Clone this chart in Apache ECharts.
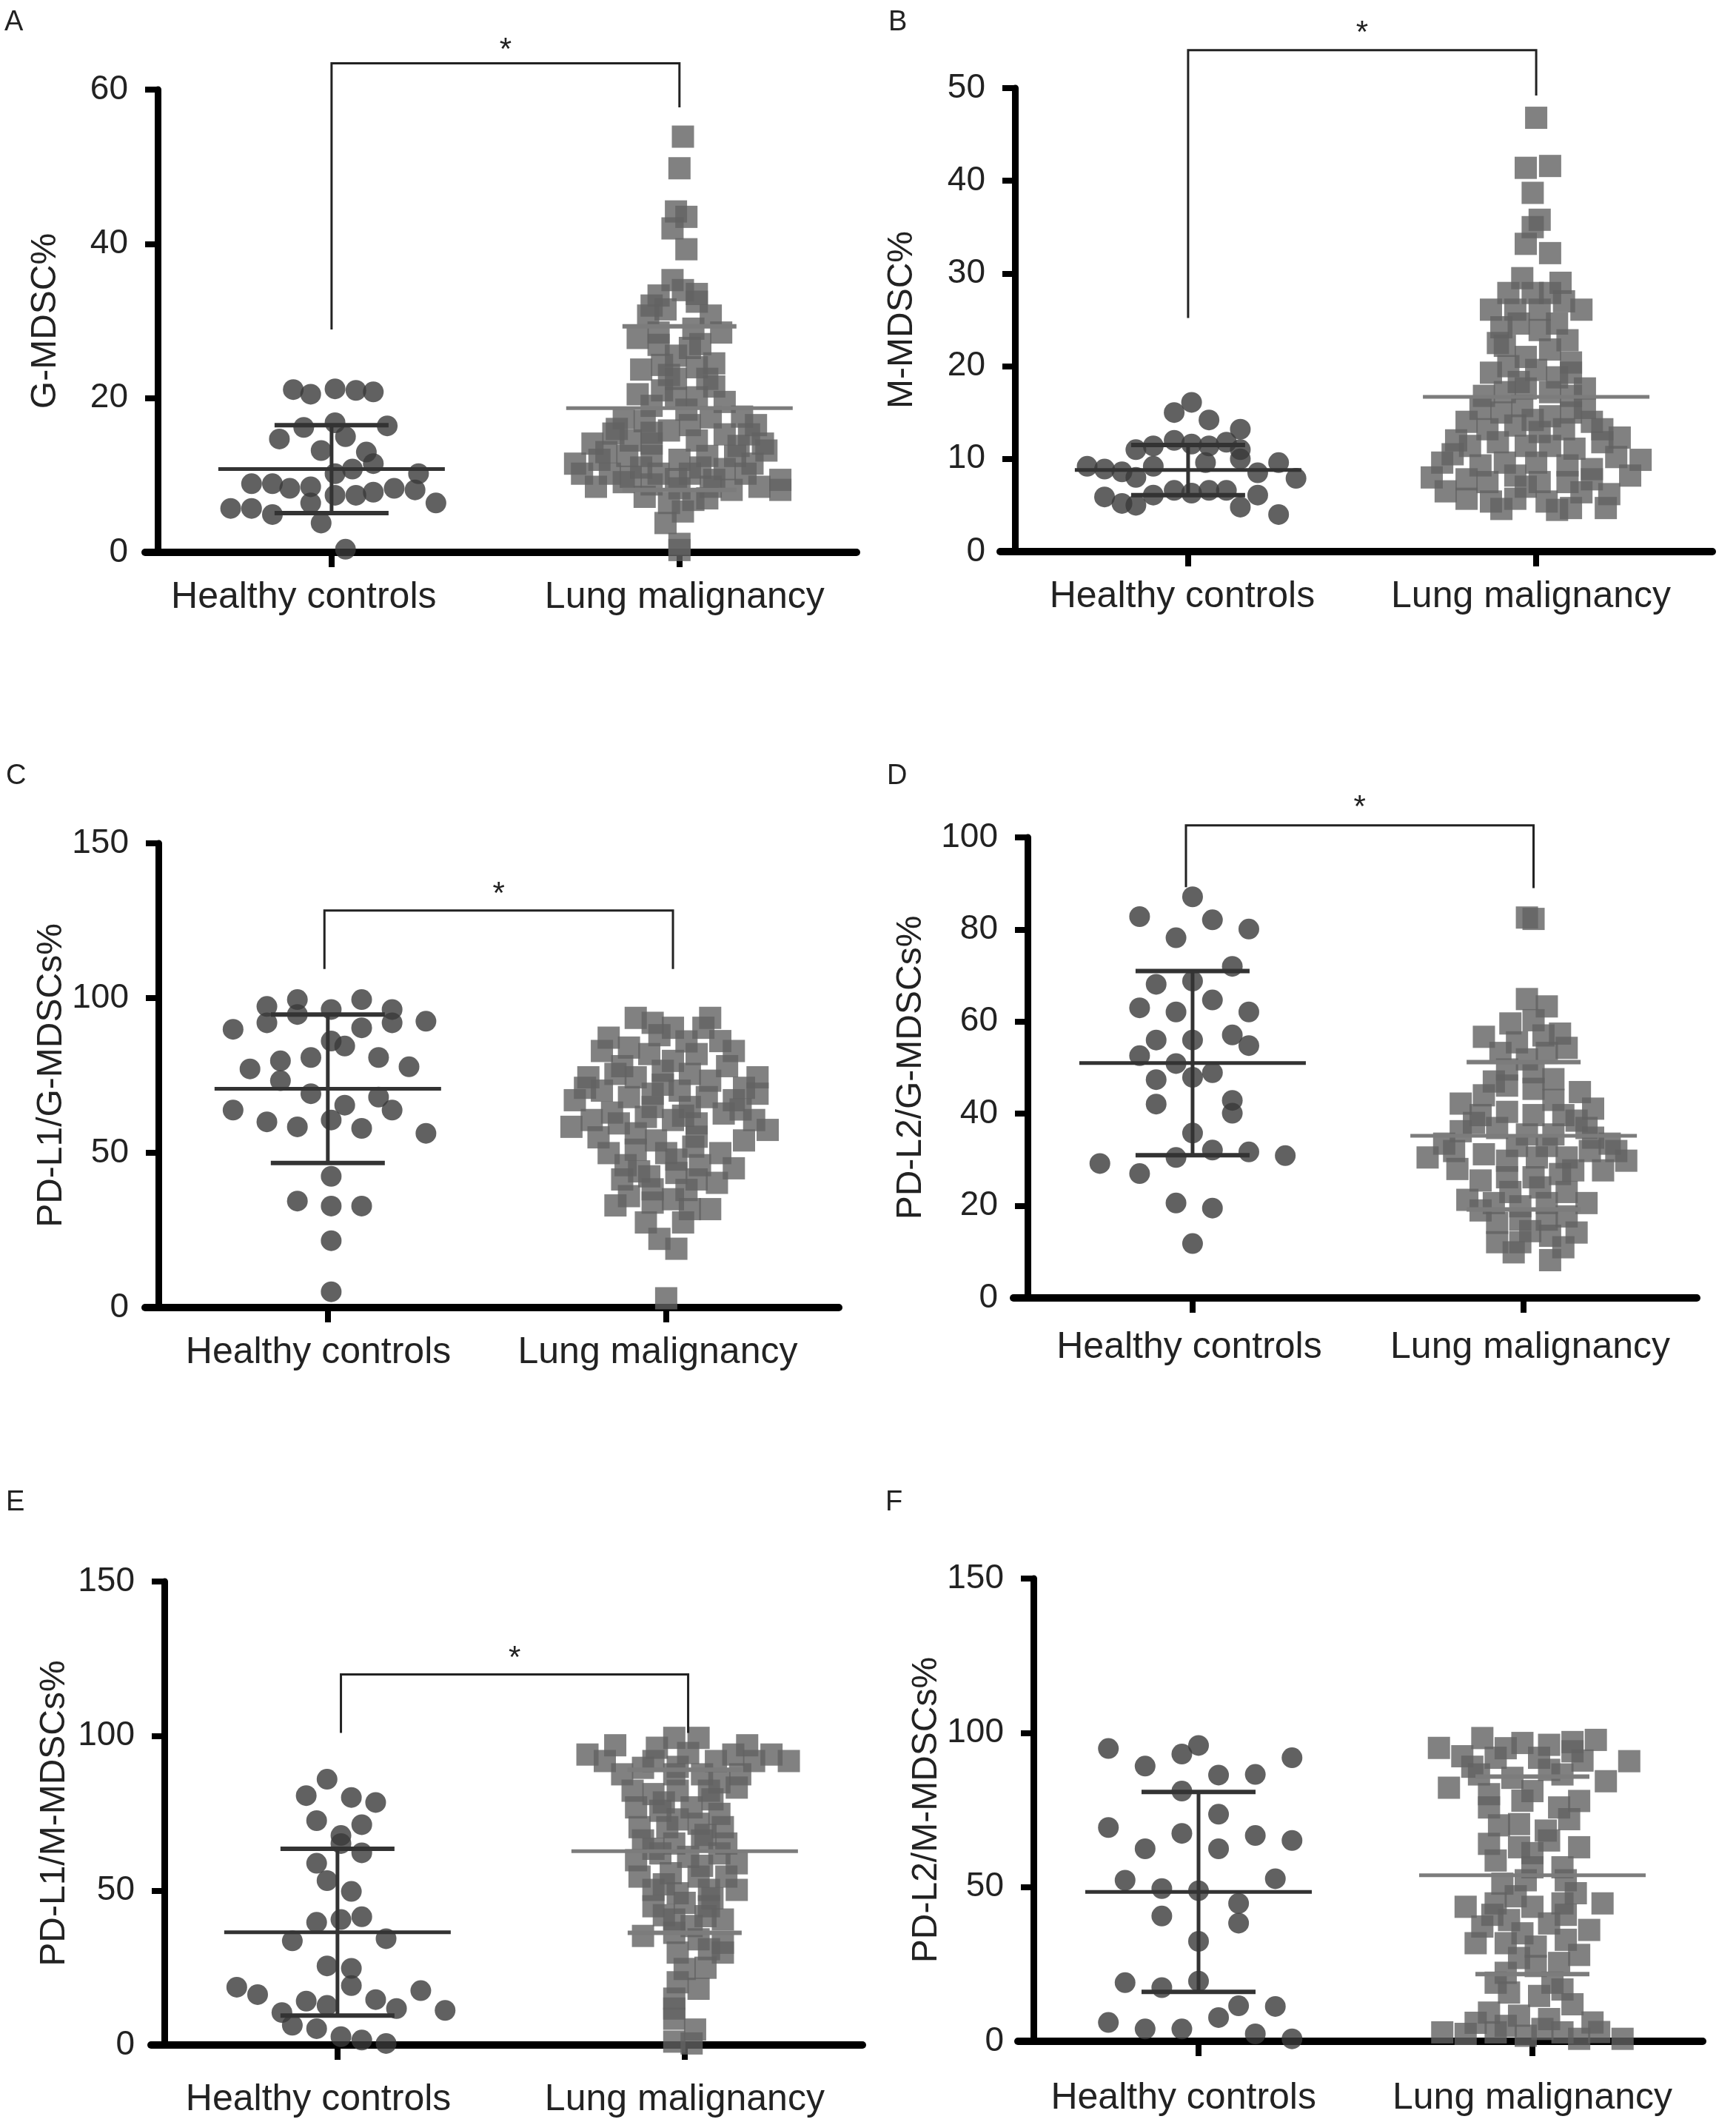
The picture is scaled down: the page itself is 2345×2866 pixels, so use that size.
<!DOCTYPE html>
<html><head><meta charset="utf-8">
<script src="https://cdn.jsdelivr.net/npm/echarts@6/dist/echarts.min.js"></script>
<style>html,body{margin:0;padding:0;background:#fff}#c{width:2345px;height:2866px}</style>
</head><body><div id="c"></div>
<script>
// ---------------- DATA ----------------
const categories = ['Healthy controls', 'Lung malignancy'];
const panelLetters = ['A', 'B', 'C', 'D', 'E', 'F'];
const yAxisNames = ['G-MDSC%', 'M-MDSC%', 'PD-L1/G-MDSCs%', 'PD-L2/G-MDSCs%', 'PD-L1/M-MDSCs%', 'PD-L2/M-MDSCs%'];
const yMax = [60, 50, 150, 100, 150, 150];
const yInterval = [20, 10, 50, 20, 50, 50];

// points: [horizontal jitter within the group (category units), value]
const aHealthy = [[-0.11,21.1],[-0.06,20.5],[0.01,21.2],[0.07,21.0],[0.12,20.8],[-0.08,16.2],[0.01,16.8],[0.16,16.4],[-0.15,14.7],[0.04,15.0],[-0.03,13.2],[0.10,13.0],[0.12,11.5],[0.06,10.8],[0.01,10.2],[0.25,10.2],[-0.23,8.9],[-0.17,8.9],[-0.12,8.3],[-0.06,8.5],[0.01,7.4],[0.07,7.4],[0.12,7.8],[0.18,8.3],[0.24,8.1],[-0.29,5.7],[-0.23,5.7],[-0.17,4.9],[-0.06,6.4],[-0.03,3.8],[0.30,6.4],[0.04,0.4]];
const aLung = [[0.01,53.9],[0.00,49.8],[-0.01,44.2],[0.02,43.5],[-0.02,42.0],[0.02,39.3],[-0.02,35.3],[-0.06,33.3],[0.05,33.5],[0.01,34.0],[-0.09,30.7],[-0.04,31.5],[0.09,30.7],[0.04,29.0],[-0.06,28.5],[-0.06,26.9],[0.03,26.5],[-0.01,25.5],[0.06,27.0],[-0.11,23.7],[-0.05,24.3],[0.05,24.0],[-0.01,22.5],[-0.05,21.0],[0.10,21.5],[0.05,20.1],[-0.01,20.0],[-0.08,19.0],[-0.16,17.4],[-0.10,17.0],[0.03,16.5],[0.09,17.5],[0.18,17.6],[-0.03,15.8],[-0.08,15.5],[-0.25,14.1],[-0.19,15.4],[-0.14,14.5],[-0.08,14.1],[0.05,14.5],[0.13,15.3],[0.20,15.3],[0.24,14.1],[-0.30,11.5],[-0.23,12.0],[-0.15,12.5],[-0.08,12.5],[0.00,12.0],[0.08,12.5],[0.16,12.5],[0.25,13.2],[-0.28,10.2],[-0.20,10.2],[-0.14,9.8],[-0.06,10.2],[0.03,10.2],[0.10,9.4],[0.19,10.2],[-0.16,9.1],[-0.08,8.8],[0.00,8.3],[0.09,8.5],[0.15,8.1],[0.23,8.5],[0.29,9.4],[0.29,8.1],[-0.03,6.4],[0.01,5.3],[0.04,6.8],[0.00,1.1],[0.00,0.3],
  [-0.12,20.5],[0.13,19.5],[0.02,18.5],[-0.03,23.0],[0.08,22.5],[-0.18,16.0],[0.22,16.5],[-0.21,13.0],[0.17,13.8],[-0.11,11.0],[0.06,11.0],[0.21,11.5],[-0.24,8.5],[-0.01,9.5],[0.13,10.8],[-0.10,7.2],[0.08,7.0],[-0.04,3.8],[0.05,32.5],[-0.08,32.0],[0.12,28.5],[-0.12,27.8],[0.10,24.5]];
const bHealthy = [[0.01,16.1],[-0.04,15.0],[0.06,14.2],[0.15,13.2],[-0.15,11.0],[-0.10,11.4],[-0.04,12.0],[0.01,11.6],[0.06,11.4],[0.11,11.8],[0.15,11.0],[-0.29,9.2],[-0.24,8.9],[-0.19,8.6],[-0.15,8.0],[-0.10,9.2],[0.05,9.6],[0.15,10.0],[0.20,8.5],[0.26,9.6],[0.31,7.9],[-0.24,5.9],[-0.19,5.2],[-0.15,5.0],[-0.10,6.1],[-0.04,6.6],[0.01,6.3],[0.06,6.6],[0.11,6.6],[0.15,4.8],[0.20,6.1],[0.26,4.0]];
const bLung = [[0.00,46.8],[-0.03,41.4],[0.04,41.6],[-0.01,38.7],[0.01,35.8],[-0.01,35.0],[-0.03,33.2],[0.04,32.2],[-0.08,27.9],[-0.01,27.9],[0.04,27.9],[-0.13,26.1],[-0.06,26.1],[0.01,26.1],[0.08,27.0],[0.13,26.1],[-0.10,24.2],[-0.05,24.6],[0.01,23.9],[0.06,24.6],[-0.09,22.2],[-0.03,21.0],[0.04,21.8],[-0.13,19.3],[-0.08,20.0],[0.00,19.6],[0.10,20.4],[0.10,19.3],[-0.15,16.8],[-0.09,17.2],[-0.03,17.6],[0.04,17.2],[0.10,16.8],[0.14,17.6],[-0.16,15.4],[-0.10,15.0],[-0.04,15.7],[0.04,14.6],[0.10,15.0],[-0.14,13.2],[-0.06,13.6],[0.01,12.9],[0.08,13.2],[0.16,14.0],[0.19,13.2],[-0.19,11.4],[-0.11,11.8],[-0.03,11.4],[0.04,11.4],[0.11,11.1],[0.19,11.8],[-0.27,9.6],[-0.16,9.3],[-0.09,9.6],[0.00,9.6],[0.09,9.3],[0.16,8.9],[0.30,9.9],[-0.30,8.0],[-0.20,7.8],[-0.14,7.5],[-0.06,8.2],[0.01,7.5],[0.09,7.5],[0.16,7.8],[0.27,8.2],[-0.20,5.7],[-0.13,5.4],[-0.06,5.7],[0.03,5.4],[0.10,4.7],[0.20,4.7],[0.13,6.4],
  [-0.04,29.5],[0.07,29.0],[-0.11,22.5],[0.09,22.8],[-0.05,18.3],[0.06,18.8],[-0.20,14.0],[0.14,15.5],[-0.23,12.0],[0.24,12.3],[-0.01,14.2],[-0.24,10.5],[0.23,10.2],[-0.03,7.0],[0.21,6.2],[-0.26,6.5],[0.06,4.5],[-0.10,4.6]];
const cHealthy = [[-0.18,97.3],[-0.09,99.5],[0.01,96.3],[0.10,99.5],[0.19,96.3],[-0.18,92.0],[-0.09,94.7],[0.10,90.4],[0.19,92.0],[0.29,92.5],[-0.28,89.9],[0.01,86.1],[0.05,84.5],[-0.14,79.7],[-0.05,80.8],[0.15,80.8],[-0.23,77.1],[0.24,77.8],[-0.14,73.3],[-0.05,69.1],[0.15,68.0],[0.05,65.4],[-0.28,63.8],[0.19,63.8],[-0.18,60.0],[-0.09,58.4],[0.01,60.6],[0.10,57.9],[0.29,56.3],[0.01,42.4],[-0.09,34.4],[0.01,32.8],[0.10,32.8],[0.01,21.6],[0.01,5.1]];
const cLung = [[-0.09,93.6],[-0.04,92.0],[0.02,90.4],[0.13,93.6],[0.11,90.4],[-0.17,87.2],[0.16,86.1],[-0.19,82.9],[0.20,82.9],[-0.05,81.9],[0.02,79.7],[0.09,81.9],[-0.11,84.0],[-0.23,74.4],[-0.15,75.5],[-0.09,74.4],[-0.01,76.5],[0.07,75.5],[0.13,73.3],[0.27,74.4],[-0.27,67.0],[-0.19,70.1],[-0.11,68.0],[-0.04,69.1],[0.04,70.1],[0.12,68.0],[0.20,67.0],[0.27,69.1],[-0.04,64.8],[0.07,64.8],[-0.28,58.4],[-0.22,60.6],[-0.14,59.5],[-0.06,61.6],[0.02,60.6],[0.09,59.5],[0.17,62.7],[0.26,60.6],[0.30,57.4],[-0.09,56.3],[0.09,55.2],[-0.17,49.9],[-0.09,51.0],[0.00,49.9],[0.08,52.0],[0.16,49.9],[0.03,47.8],[-0.13,41.4],[-0.05,42.4],[0.03,43.5],[0.09,41.4],[0.15,40.3],[-0.04,38.2],[-0.11,36.0],[-0.04,33.9],[0.02,35.0],[0.07,31.8],[0.13,31.8],[-0.06,27.5],[0.05,27.5],[-0.02,22.2],[0.03,19.0],[0.00,3.0],
  [-0.02,88],[0.06,86],[-0.13,78],[0.18,78],[-0.24,71],[0.23,71],[-0.01,72],[-0.16,63],[0.22,64],[0.05,62],[-0.20,55],[0.23,54],[-0.03,54],[-0.12,46],[0.10,46],[0.20,45],[-0.08,44],[0.06,38],[-0.15,33]];
const dHealthy = [[0.00,87.1],[-0.16,82.8],[0.06,82.1],[0.17,80.1],[-0.05,78.2],[0.12,72.0],[-0.11,68.1],[0.00,68.8],[0.06,64.7],[-0.16,63.0],[-0.05,62.1],[0.17,62.1],[-0.11,56.0],[0.00,56.0],[0.12,57.1],[0.17,54.8],[-0.16,52.6],[-0.05,50.9],[0.06,48.9],[-0.11,47.4],[0.00,47.9],[-0.11,42.1],[0.12,42.9],[0.12,40.1],[0.00,35.8],[-0.05,30.5],[0.06,32.1],[0.17,31.7],[0.28,30.9],[-0.28,29.2],[-0.16,27.0],[-0.05,20.6],[0.06,19.5],[0.00,11.8]];
const dLung = [[0.01,82.6],[0.03,82.3],[0.01,64.9],[0.07,63.3],[-0.04,59.6],[0.03,60.3],[-0.12,56.7],[0.11,57.4],[0.13,54.3],[-0.07,53.2],[0.01,51.8],[0.07,53.2],[-0.05,49.6],[0.03,49.0],[-0.05,46.1],[0.03,45.4],[0.17,44.7],[-0.12,44.0],[-0.19,42.2],[0.09,43.0],[-0.13,39.7],[-0.05,40.4],[0.03,39.7],[0.12,39.7],[0.21,41.1],[-0.19,36.2],[-0.08,36.9],[0.01,35.5],[0.09,35.5],[0.19,36.9],[0.21,34.8],[-0.29,30.5],[-0.21,31.9],[-0.12,31.2],[-0.05,29.8],[0.04,30.5],[0.13,30.5],[0.20,31.9],[0.28,31.9],[0.31,29.8],[-0.13,25.5],[-0.05,26.2],[0.03,26.2],[0.11,26.9],[0.15,27.7],[0.24,27.7],[-0.17,21.3],[-0.09,20.6],[-0.01,19.9],[0.07,20.6],[0.19,20.6],[-0.08,16.3],[-0.01,17.0],[0.07,17.0],[0.13,17.7],[-0.08,12.1],[-0.01,12.1],[0.08,13.5],[0.16,14.2],[-0.03,9.9],[0.08,8.2],
  [-0.02,55.5],[0.06,57],[-0.09,47],[0.09,47.5],[-0.15,38],[0.16,38.5],[-0.24,33.5],[0.07,33],[-0.02,33],[0.26,33.5],[-0.20,28],[0.05,24],[-0.04,23],[0.13,23],[-0.13,19],[0.02,14.5],[0.12,11]];
const eHealthy = [[-0.03,86.0],[-0.09,80.7],[0.04,80.1],[0.11,78.5],[-0.06,72.6],[0.07,71.3],[0.01,67.8],[0.07,62.2],[0.01,65.2],[-0.06,58.8],[-0.03,53.2],[0.04,49.7],[-0.06,39.7],[0.01,40.6],[0.07,41.5],[-0.13,33.7],[0.14,34.4],[-0.03,25.6],[0.04,24.8],[0.04,19.2],[-0.29,18.7],[-0.23,16.3],[0.24,17.6],[-0.09,14.2],[-0.03,12.8],[0.11,14.7],[0.17,11.8],[0.31,11.2],[-0.16,10.5],[-0.13,6.4],[-0.06,5.3],[0.01,2.7],[0.07,1.6],[0.14,0.5]];
const eLung = [[-0.03,99.4],[0.04,99.4],[-0.08,96.2],[0.01,94.5],[-0.28,94.0],[-0.23,91.9],[0.25,94.0],[0.30,91.9],[0.20,91.9],[0.14,94.0],[-0.09,91.9],[0.09,91.9],[-0.18,87.6],[-0.12,89.7],[-0.03,87.6],[0.05,87.6],[0.16,87.6],[-0.15,82.3],[-0.09,81.2],[-0.02,82.3],[0.07,82.3],[0.15,83.3],[-0.14,76.9],[-0.07,75.8],[0.02,76.9],[0.10,74.8],[-0.13,70.5],[-0.05,70.5],[0.04,71.6],[0.11,70.5],[-0.12,66.2],[-0.03,65.2],[0.05,66.2],[0.12,65.2],[-0.14,59.8],[-0.07,62.0],[0.01,60.9],[0.10,62.0],[0.15,58.8],[-0.13,54.5],[-0.04,55.6],[0.04,54.5],[0.12,54.5],[-0.09,50.2],[-0.02,49.1],[0.07,50.2],[0.15,50.2],[-0.09,44.9],[0.00,46.0],[0.07,44.9],[-0.03,40.6],[0.06,41.7],[0.11,40.6],[-0.12,35.3],[-0.03,36.3],[0.04,34.2],[0.11,33.1],[-0.02,29.9],[0.11,29.9],[0.00,24.6],[-0.02,20.3],[0.04,18.2],[-0.03,11.8],[-0.03,8.5],[-0.03,1.1],[0.02,0.5],
  [-0.20,97],[0.18,97],[-0.02,90],[0.10,85],[-0.06,78.5],[0.08,79.5],[-0.02,73],[0.06,68],[-0.09,63.5],[0.05,58],[-0.06,52],[0.08,47.5],[-0.06,42],[0.02,38.5],[0.07,31],[0.06,25],[-0.03,15],[0.03,5]];
const fHealthy = [[-0.27,94.9],[0.00,95.9],[-0.05,93.1],[0.28,91.9],[-0.16,89.2],[0.06,86.3],[0.17,86.5],[-0.05,81.1],[0.06,73.6],[-0.27,69.3],[-0.05,67.4],[0.17,66.7],[0.28,65.1],[-0.16,62.4],[0.06,62.4],[-0.22,52.2],[0.23,52.7],[-0.11,49.5],[0.00,48.8],[0.12,44.7],[-0.11,40.6],[0.12,38.3],[0.00,32.4],[-0.22,19.0],[-0.11,17.4],[0.00,19.5],[0.12,11.5],[0.23,11.3],[0.06,7.7],[-0.27,6.1],[-0.16,4.0],[-0.05,4.0],[0.17,2.4],[0.28,0.8]];
const fLung = [[-0.15,98.3],[-0.03,96.7],[0.05,96.1],[0.19,97.7],[-0.28,95.1],[-0.21,92.4],[-0.11,91.9],[0.02,91.9],[0.12,94.0],[0.29,90.8],[-0.25,82.2],[-0.16,86.5],[-0.06,85.4],[0.09,86.5],[0.22,84.3],[-0.13,80.1],[0.00,81.1],[0.14,77.9],[-0.13,75.8],[0.08,75.8],[-0.04,70.4],[0.04,68.3],[-0.13,64.0],[-0.04,62.9],[0.05,65.1],[0.14,62.9],[-0.11,58.6],[0.00,56.4],[0.09,56.4],[-0.09,51.1],[-0.02,52.2],[0.10,52.2],[-0.20,43.6],[-0.11,44.7],[0.00,43.6],[0.09,44.7],[0.21,44.7],[-0.15,37.2],[-0.07,39.3],[0.05,38.2],[0.17,36.1],[-0.17,31.8],[-0.08,31.8],[0.01,30.7],[0.10,32.9],[-0.08,22.2],[0.01,24.4],[0.08,25.4],[-0.07,15.8],[0.02,14.7],[0.09,16.8],[-0.13,9.3],[-0.04,8.3],[0.05,7.2],[0.18,6.1],[-0.27,2.9],[-0.20,2.4],[-0.11,2.9],[-0.02,1.8],[0.09,2.9],[0.14,0.8],[0.27,0.8],
  [-0.08,95],[0.12,97],[-0.18,89],[0.05,88],[0.15,91],[-0.03,78],[0.11,72],[-0.10,70],[0.00,61],[-0.05,47],[0.13,48],[-0.12,41],[0.10,41],[-0.03,35],[0.14,28],[-0.04,27],[-0.11,19],[0.06,19],[0.12,12],[-0.08,5],[0.03,4],[0.20,3],[-0.17,6]];

// group summaries: [mean, SD] (SD null = not shown)
const aStats = [[10.8, 5.7], [18.7, 10.6]];
const bStats = [[8.8, 2.7], [16.7, null]];
const cStats = [[70.7, 24.0], null];
const dStats = [[51.0, 20.0], [35.2, 16.0]];
const eStats = [[36.5, 27.0], [62.7, 26.4]];
const fStats = [[48.4, 32.4], [53.8, 32.0]];

// significance brackets: [left x, right x, bar value, left leg end, right leg end, star value]
const aBracket = [0, 1, 63.4, 28.9, 57.7, 65.0];
const bBracket = [0, 1, 54.1, 25.2, 49.2, 55.9];
const cBracket = [-0.01, 1.02, 128.3, 109.4, 109.4, 133.4];
const dBracket = [-0.02, 1.03, 102.6, 89.2, 89.0, 106.3];
const eBracket = [0.01, 1.01, 119.9, 101.0, 101.0, 125.0];
const fBracket = null;

const healthySets = [aHealthy, bHealthy, cHealthy, dHealthy, eHealthy, fHealthy];
const lungSets = [aLung, bLung, cLung, dLung, eLung, fLung];
const statSets = [aStats, bStats, cStats, dStats, eStats, fStats];
const bracketSets = [aBracket, bBracket, cBracket, dBracket, eBracket, fBracket];

// ---------------- LAYOUT / STYLE ----------------
const FONT = 'Liberation Sans, Arial, sans-serif';
// left = start of x-axis line; yOff = distance of y-axis line to the right of it;
// labelAt = where each category label is centred (category units)
const grids = [
  {left: 196, top: 121, width: 961, height: 625, yOff: 17, xmin: -0.536, xmax: 1.509, nameGap: 127, labelMargin: 36, labelAt: [-0.08, 1.015], letter: [6, 12]},
  {left: 1351, top: 119, width: 962, height: 626, yOff: 20, xmin: -0.540, xmax: 1.506, nameGap: 128, labelMargin: 36, labelAt: [-0.017, 0.985], letter: [1200, 12]},
  {left: 196, top: 1139, width: 937, height: 627, yOff: 18, xmin: -0.540, xmax: 1.510, nameGap: 116, labelMargin: 36, labelAt: [-0.028, 0.975], letter: [8, 1030]},
  {left: 1369, top: 1131, width: 923, height: 622, yOff: 19, xmin: -0.541, xmax: 1.523, nameGap: 133, labelMargin: 42, labelAt: [-0.01, 1.02], letter: [1198, 1030]},
  {left: 204, top: 2136, width: 961, height: 626, yOff: 18, xmin: -0.537, xmax: 1.512, nameGap: 124, labelMargin: 49, labelAt: [-0.055, 1.0], letter: [8, 2011]},
  {left: 1375, top: 2132, width: 925, height: 625, yOff: 21, xmin: -0.541, xmax: 1.510, nameGap: 113, labelMargin: 52, labelAt: [-0.045, 1.0], letter: [1196, 2011]}
];
const HEALTHY_COLOR = '#393939';
const LUNG_COLOR = '#616161';

function statsRender(color, isLung) {
  return function (params, api) {
    const x = api.value(0), m = api.value(1), s = api.value(2);
    const c = api.coord([x, m]);
    const ch = [{type: 'line', shape: {x1: c[0] - 153, y1: c[1], x2: c[0] + 153, y2: c[1]}, style: {stroke: color, lineWidth: 5}}];
    if (!isNaN(s) && s > 0) {
      const t = api.coord([x, m + s]), b = api.coord([x, m - s]);
      if (!isLung) ch.push({type: 'line', shape: {x1: c[0], y1: t[1], x2: c[0], y2: b[1]}, style: {stroke: color, lineWidth: 5}});
      ch.push({type: 'line', shape: {x1: c[0] - 77, y1: t[1], x2: c[0] + 77, y2: t[1]}, style: {stroke: color, lineWidth: 6}});
      ch.push({type: 'line', shape: {x1: c[0] - 77, y1: b[1], x2: c[0] + 77, y2: b[1]}, style: {stroke: color, lineWidth: 6}});
    }
    return {type: 'group', children: ch};
  };
}
function bracketRender(params, api) {
  const x0 = api.value(0), x1 = api.value(1), top = api.value(2), l = api.value(3), r = api.value(4), st = api.value(5);
  const pL = api.coord([x0, l]), pTL = api.coord([x0, top]), pTR = api.coord([x1, top]), pR = api.coord([x1, r]);
  const ps = api.coord([(x0 + x1) / 2, st]);
  return {type: 'group', children: [
    {type: 'polyline', shape: {points: [pL, pTL, pTR, pR]}, style: {stroke: '#222', lineWidth: 3, fill: null}},
    {type: 'text', x: ps[0], y: ps[1], style: {text: '*', fontSize: 42, fontFamily: FONT, fill: '#222', align: 'center', verticalAlign: 'middle'}}
  ]};
}

const option = {
  backgroundColor: '#fff',
  animation: false,
  grid: grids.map(g => ({left: g.left, top: g.top, width: g.width, height: g.height, containLabel: false})),
  xAxis: grids.map((g, i) => ({
    type: 'value', gridIndex: i, min: g.xmin, max: g.xmax,
    axisLine: {show: true, onZero: false, lineStyle: {color: '#000', width: 10}},
    axisTick: {show: true, customValues: [0, 1], length: 20, lineStyle: {color: '#000', width: 8}},
    axisLabel: {customValues: g.labelAt, formatter: v => categories[Math.round(v)], fontSize: 50, fontFamily: FONT, color: '#222', margin: g.labelMargin},
    splitLine: {show: false}
  })),
  yAxis: grids.map((g, i) => ({
    type: 'value', gridIndex: i, min: 0, max: yMax[i], interval: yInterval[i], offset: -g.yOff,
    name: yAxisNames[i], nameLocation: 'middle', nameGap: g.nameGap,
    nameTextStyle: {fontSize: 48, fontFamily: FONT, color: '#222'},
    axisLine: {show: true, onZero: false, lineStyle: {color: '#000', width: 9}},
    axisTick: {show: true, length: 17, lineStyle: {color: '#000', width: 8}},
    axisLabel: {fontSize: 46, fontFamily: FONT, color: '#222', margin: 40},
    splitLine: {show: false}
  })),
  graphic: grids.map((g, i) => ({
    type: 'text', left: g.letter[0], top: g.letter[1],
    style: {text: panelLetters[i], fontSize: 38, fontFamily: FONT, fill: '#222'}
  })),
  series: []
};

grids.forEach((g, i) => {
  option.series.push({
    type: 'scatter', xAxisIndex: i, yAxisIndex: i, clip: false, z: 3,
    symbol: 'circle', symbolSize: 28, itemStyle: {color: HEALTHY_COLOR},
    data: healthySets[i].map(p => [0 + p[0], p[1]])
  });
  option.series.push({
    type: 'scatter', xAxisIndex: i, yAxisIndex: i, clip: false, z: 3,
    symbol: 'rect', symbolSize: 30, itemStyle: {color: LUNG_COLOR},
    data: lungSets[i].map(p => [1 + p[0], p[1]])
  });
  const st = statSets[i];
  if (st[0]) option.series.push({
    type: 'custom', xAxisIndex: i, yAxisIndex: i, z: 4, clip: false,
    renderItem: statsRender('#333', false),
    data: [[0, st[0][0], st[0][1] == null ? NaN : st[0][1]]]
  });
  if (st[1]) option.series.push({
    type: 'custom', xAxisIndex: i, yAxisIndex: i, z: 4, clip: false,
    renderItem: statsRender('#7c7c7c', true),
    data: [[1, st[1][0], st[1][1] == null ? NaN : st[1][1]]]
  });
  if (bracketSets[i]) option.series.push({
    type: 'custom', xAxisIndex: i, yAxisIndex: i, z: 4, clip: false,
    renderItem: bracketRender, data: [bracketSets[i]]
  });
});

const chart = echarts.init(document.getElementById('c'), null, {renderer: 'canvas'});
chart.setOption(option);
</script>
</body></html>
